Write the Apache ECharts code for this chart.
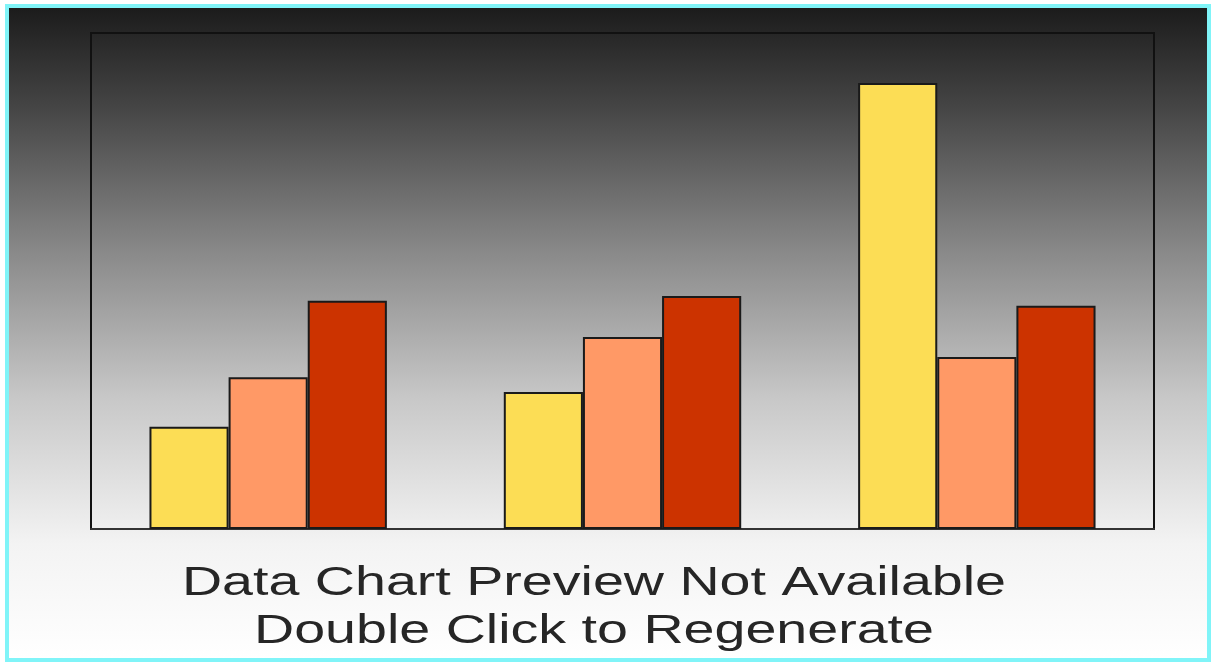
<!DOCTYPE html>
<html>
<head>
<meta charset="utf-8">
<script src="https://cdn.jsdelivr.net/npm/echarts@6/dist/echarts.min.js"></script>
<style>
html,body{margin:0;padding:0;background:#fff;}
#c{width:1211px;height:663px;}
</style>
</head>
<body>
<div id="c"></div>
<script>
var categories = ['A', 'B', 'C'];
var series1 = [20.6, 27.6, 89.9];
var series2 = [30.6, 38.7, 34.7];
var series3 = [46.0, 47.0, 45.0];
var titleLines = ['Data Chart Preview Not Available', 'Double Click to Regenerate'];

var chart = echarts.init(document.getElementById('c'), null, {renderer: 'canvas'});
var barBorder = {borderColor: '#1a1a1a', borderWidth: 2};
chart.setOption({
  animation: false,
  graphic: [
    {
      type: 'rect', z: -10, silent: true,
      shape: {x: 7, y: 6, width: 1202, height: 654},
      style: {
        fill: new echarts.graphic.LinearGradient(0, 0, 0, 1, [
          {offset: 0, color: '#1a1a1a'},
          {offset: 0.15, color: '#434343'},
          {offset: 0.38, color: '#8a8a8a'},
          {offset: 0.6, color: '#c8c8c8'},
          {offset: 0.82, color: '#f3f3f3'},
          {offset: 1, color: '#ffffff'}
        ]),
        stroke: '#80f4f8', lineWidth: 4
      }
    },
    {
      type: 'text', x: 594, y: 560, scaleX: 1.39, z: 10, silent: true,
      style: {
        text: titleLines.join('\n'),
        x: 0, y: 0,
        align: 'center',
        textAlign: 'center',
        font: '40px "Liberation Sans", Arial, sans-serif',
        lineHeight: 48,
        fill: '#262626'
      }
    }
  ],
  grid: {left: 91, top: 33, width: 1063, height: 496, show: true, borderColor: '#111', borderWidth: 2, backgroundColor: 'transparent'},
  xAxis: {type: 'category', data: categories, axisLabel: {show: false}, axisTick: {show: false}, axisLine: {show: true, lineStyle: {color: '#333', width: 2}}},
  yAxis: {type: 'value', min: 0, max: 100, interval: 20, show: false, splitLine: {show: false}},
  series: [
    {type: 'bar', data: series1, barGap: '0%', barCategoryGap: '33%', itemStyle: Object.assign({color: '#fcdd55'}, barBorder)},
    {type: 'bar', data: series2, barGap: '0%', barCategoryGap: '33%', itemStyle: Object.assign({color: '#ff9966'}, barBorder)},
    {type: 'bar', data: series3, barGap: '0%', barCategoryGap: '33%', itemStyle: Object.assign({color: '#cc3300'}, barBorder)}
  ]
});
</script>
</body>
</html>
